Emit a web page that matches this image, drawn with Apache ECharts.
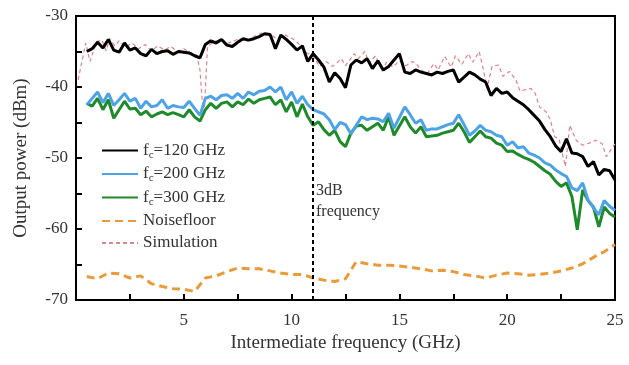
<!DOCTYPE html>
<html>
<head>
<meta charset="utf-8">
<script src="https://cdn.jsdelivr.net/npm/echarts@6/dist/echarts.min.js"></script>
<style>
  html, body { margin: 0; padding: 0; background: #fff; }
  #chart { width: 629px; height: 365px; }
</style>
</head>
<body>
<div id="chart"></div>
<script>
// measured curves, 0.25 GHz grid
const freq = [
  0.5, 0.75, 1, 1.25, 1.5, 1.75, 2, 2.25, 2.5, 2.75,
  3, 3.25, 3.5, 3.75, 4, 4.25, 4.5, 4.75, 5, 5.25,
  5.5, 5.75, 6, 6.25, 6.5, 6.75, 7, 7.25, 7.5, 7.75,
  8, 8.25, 8.5, 8.75, 9, 9.25, 9.5, 9.75, 10, 10.25,
  10.5, 10.75, 11, 11.25, 11.5, 11.75, 12, 12.25, 12.5, 12.75,
  13, 13.25, 13.5, 13.75, 14, 14.25, 14.5, 14.75, 15, 15.25,
  15.5, 15.75, 16, 16.25, 16.5, 16.75, 17, 17.25, 17.5, 17.75,
  18, 18.25, 18.5, 18.75, 19, 19.25, 19.5, 19.75, 20, 20.25,
  20.5, 20.75, 21, 21.25, 21.5, 21.75, 22, 22.25, 22.5, 22.75,
  23, 23.25, 23.5, 23.75, 24, 24.25, 24.5, 24.75, 25
]

const fc120 = [
  -35.0, -34.6, -33.7, -34.5, -33.3, -34.8, -35.1, -33.8, -34.8, -34.5,
  -35.3, -35.6, -34.7, -35.3, -35.0, -34.9, -35.4, -35.0, -35.1, -35.2,
  -35.6, -35.9, -34.0, -33.5, -33.8, -33.3, -34.1, -34.3, -33.7, -33.2,
  -33.4, -33.2, -32.9, -32.5, -32.6, -34.6, -32.7, -33.3, -34.0, -34.8,
  -34.2, -36.4, -35.3, -36.2, -37.2, -39.3, -38.0, -38.8, -40.1, -36.9,
  -36.2, -36.6, -36.0, -37.4, -36.3, -37.6, -37.1, -36.2, -35.3, -37.9,
  -38.1, -37.6, -37.9, -38.1, -38.3, -37.9, -38.1, -37.8, -37.6, -39.3,
  -38.6, -37.9, -38.3, -38.9, -39.3, -41.2, -40.2, -40.9, -40.7, -41.5,
  -42.0, -42.5, -43.2, -44.0, -44.8, -46.0, -47.0, -48.3, -49.1, -47.3,
  -49.3, -49.4, -49.8, -51.2, -50.5, -52.4, -51.6, -51.8, -53.1
]

const fc200 = [
  -42.5, -41.6, -40.7, -42.2, -40.9, -42.6, -41.8, -40.9, -42.0, -41.6,
  -43.0, -42.0, -42.8, -42.6, -41.8, -43.0, -42.6, -42.8, -42.9, -42.0,
  -43.0, -44.0, -41.6, -41.3, -41.8, -41.2, -41.1, -41.6, -40.9, -41.6,
  -40.7, -41.1, -40.6, -40.5, -40.0, -40.7, -40.0, -41.8, -40.7, -42.3,
  -41.3, -42.5, -43.2, -43.5, -43.8, -44.6, -46.0, -45.0, -45.3, -46.6,
  -45.4, -44.2, -44.6, -44.4, -44.5, -44.9, -43.7, -45.8, -44.3, -42.8,
  -43.9, -45.1, -44.6, -46.1, -45.9, -45.9, -45.6, -45.3, -45.1, -43.9,
  -45.3, -46.8, -46.2, -45.4, -46.1, -46.3, -46.8, -47.0, -48.2, -47.7,
  -48.6, -48.4, -49.3, -49.6, -50.0, -50.7, -51.0, -51.7, -52.2, -52.6,
  -54.2, -54.6, -53.5, -55.9, -57.0, -58.0, -56.0, -56.8, -57.4
]

const fc300 = [
  -42.3, -42.7, -41.6, -43.2, -41.8, -44.4, -43.2, -42.0, -43.1, -43.0,
  -43.9, -43.4, -44.2, -43.8, -43.5, -43.9, -43.6, -43.9, -44.2, -43.2,
  -44.2, -44.8, -43.2, -42.3, -43.0, -42.3, -42.1, -42.8, -42.1, -42.5,
  -41.7, -42.3, -41.8, -41.6, -41.4, -42.5, -41.8, -43.5, -42.1, -44.2,
  -42.4, -44.2, -45.4, -44.9, -46.0, -46.8, -46.1, -47.7, -48.4, -46.5,
  -45.5, -45.4, -46.1, -45.6, -45.1, -46.1, -44.2, -46.8, -45.5, -44.2,
  -45.6, -46.5, -45.6, -47.0, -46.9, -46.8, -46.5, -46.3, -46.1, -45.1,
  -46.3, -47.8, -47.0, -46.2, -47.0, -47.2, -47.9, -48.2, -49.1, -49.0,
  -49.5, -49.9, -50.2, -50.6, -51.2, -51.8, -52.3, -53.3, -54.0, -53.5,
  -55.4, -60.1, -54.5, -56.0, -56.9, -59.7, -56.9, -57.8, -58.3
]

// noise floor, 0.5 GHz grid
const noiseFreq = [
  0.5, 1, 1.5, 2, 2.5, 3, 3.5, 4, 4.5, 5,
  5.5, 6, 6.5, 7, 7.5, 8, 8.5, 9, 9.5, 10,
  10.5, 11, 11.5, 12, 12.5, 13, 13.5, 14, 14.5, 15,
  15.5, 16, 16.5, 17, 17.5, 18, 18.5, 19, 19.5, 20,
  20.5, 21, 21.5, 22, 22.5, 23, 23.5, 24, 24.5, 25
]
const noiseFloor = [
  -66.7, -67.0, -66.2, -66.3, -66.9, -66.6, -67.7, -68.1, -68.4, -68.5,
  -68.8, -66.9, -66.6, -66.0, -65.5, -65.6, -65.6, -65.9, -66.2, -66.4,
  -66.4, -66.9, -67.2, -67.4, -67.0, -64.6, -64.9, -65.1, -65.1, -65.2,
  -65.4, -65.6, -65.9, -65.8, -66.0, -66.4, -66.6, -66.9, -66.5, -66.2,
  -66.3, -66.5, -66.4, -66.2, -65.9, -65.5, -64.9, -64.0, -63.2, -62.2
]

// simulation (irregular sampling)
const simFreq = [
  0.1, 0.45, 0.65, 0.95, 1.2, 1.4, 1.55, 1.8, 2.0, 2.3,
  2.6, 2.9, 3.2, 3.5, 3.8, 4.1, 4.4, 4.7, 5.0, 5.3,
  5.6, 5.75, 5.85, 5.95, 6.1, 6.4, 6.7, 7.0, 7.3, 7.6,
  7.9, 8.2, 8.6, 9.0, 9.3, 9.7, 10.0, 10.3, 10.6, 11.0,
  11.3, 11.6, 11.9, 12.1, 12.3, 12.5, 12.7, 12.9, 13.1, 13.4,
  13.6, 13.9, 14.2, 14.4, 14.7, 15.0, 15.3, 15.6, 15.8, 16.0,
  16.3, 16.6, 16.8, 17.1, 17.4, 17.6, 17.9, 18.2, 18.4, 18.7,
  18.9, 19.06, 19.3, 19.6, 19.8, 20.1, 20.4, 20.6, 20.8, 21.1,
  21.3, 21.5, 21.8, 22.0, 22.2, 22.4, 22.7, 22.9, 23.2, 23.5,
  23.8, 24.1, 24.4, 24.6, 25.0
]
const simPower = [
  -39.0, -33.8, -36.4, -33.6, -33.4, -34.9, -33.2, -34.2, -33.5, -34.4,
  -33.8, -34.6, -34.0, -34.9, -34.2, -34.8, -34.3, -35.0, -34.6, -35.2,
  -35.5, -37.6, -41.8, -43.5, -34.3, -33.6, -33.3, -33.9, -33.5, -33.2,
  -33.6, -33.0, -32.4, -32.6, -33.2, -32.7, -33.1, -33.8, -35.0, -35.7,
  -37.1, -36.4, -37.1, -36.6, -36.0, -37.0, -36.2, -35.3, -36.0, -35.0,
  -36.6, -35.6, -37.8, -36.5, -37.2, -36.3, -37.0, -36.4, -36.8, -37.6,
  -38.1, -36.7, -37.6, -35.7, -37.2, -35.6, -36.8, -35.3, -36.5, -35.0,
  -37.6, -40.2, -37.1, -36.9, -38.5, -37.8, -39.0, -40.6, -40.4, -40.2,
  -40.9, -42.8, -43.5, -44.6, -47.0, -47.3, -51.2, -45.4, -47.5, -48.2,
  -47.9, -47.5, -48.0, -49.8, -48.0
]

const cutoffFreq = 11

const font = 'Liberation Serif'
const textColor = '#333'

function pairs (xs, ys) {
  return xs.map((x, i) => [x, ys[i]])
}

const chart = echarts.init(document.getElementById('chart'))

chart.setOption({
  animation: false,
  grid: {
    left: 76,
    right: 14,
    top: 16,
    bottom: 65,
    show: true,
    borderColor: '#000',
    borderWidth: 2
  },
  legend: {
    orient: 'vertical',
    left: 96,
    top: 137,
    itemWidth: 36,
    itemHeight: 12,
    itemGap: 5,
    // line only, no marker in the legend
    itemStyle: { opacity: 0 },
    textStyle: {
      fontFamily: font,
      fontSize: 17,
      color: textColor,
      rich: {
        f: { fontFamily: font, fontSize: 17, color: textColor },
        s: { fontFamily: font, fontSize: 11, color: textColor, padding: [9, 0, 0, 0] }
      }
    },
    formatter: function (name) {
      if (name.indexOf('fc=') === 0) {
        return '{f|f}{s|c}{f|' + name.slice(2) + '}'
      }
      return name
    },
    data: ['fc=120 GHz', 'fc=200 GHz', 'fc=300 GHz', 'Noisefloor', 'Simulation']
  },
  xAxis: {
    type: 'value',
    min: 0,
    max: 25,
    interval: 2.5,
    name: 'Intermediate frequency (GHz)',
    nameLocation: 'middle',
    nameGap: 33,
    nameTextStyle: { fontFamily: font, fontSize: 19, color: textColor },
    axisLine: { lineStyle: { color: '#000', width: 2 } },
    axisTick: { inside: true, length: 6, lineStyle: { color: '#000', width: 2 } },
    axisLabel: {
      fontFamily: font,
      fontSize: 17,
      color: textColor,
      margin: 12,
      formatter: v => (v > 0 && v % 5 === 0) ? String(v) : ''
    },
    splitLine: { show: false }
  },
  yAxis: {
    type: 'value',
    min: -70,
    max: -30,
    interval: 5,
    name: 'Output power (dBm)',
    nameLocation: 'middle',
    nameGap: 45,
    nameTextStyle: { fontFamily: font, fontSize: 19, color: textColor },
    axisLine: { show: true, lineStyle: { color: '#000', width: 2 } },
    axisTick: { inside: true, length: 6, lineStyle: { color: '#000', width: 2 } },
    axisLabel: {
      fontFamily: font,
      fontSize: 17,
      color: textColor,
      margin: 8,
      formatter: v => (v % 10 === 0) ? String(v) : ''
    },
    splitLine: { show: false }
  },
  graphic: [{
    type: 'text',
    left: 316,
    top: 180,
    style: {
      text: '3dB\nfrequency',
      font: '16px "Liberation Serif"',
      fill: textColor,
      lineHeight: 21
    }
  }],
  series: [
    {
      name: 'Simulation',
      type: 'line',
      data: pairs(simFreq, simPower),
      symbol: 'none',
      z: 1,
      lineStyle: { color: '#d9868d', width: 1.2, type: [4, 3] },
      itemStyle: { color: '#d9868d' }
    },
    {
      name: 'fc=300 GHz',
      type: 'line',
      data: pairs(freq, fc300),
      symbol: 'none',
      z: 2,
      lineStyle: { color: '#1f8a2c', width: 3 },
      itemStyle: { color: '#1f8a2c' }
    },
    {
      name: 'fc=200 GHz',
      type: 'line',
      data: pairs(freq, fc200),
      symbol: 'none',
      z: 3,
      lineStyle: { color: '#4ea3e6', width: 3 },
      itemStyle: { color: '#4ea3e6' }
    },
    {
      name: 'fc=120 GHz',
      type: 'line',
      data: pairs(freq, fc120),
      symbol: 'none',
      z: 4,
      lineStyle: { color: '#000', width: 3 },
      itemStyle: { color: '#000' },
      markLine: {
        silent: true,
        symbol: 'none',
        label: { show: false },
        lineStyle: { color: '#000', width: 2, type: [4, 3] },
        data: [{ xAxis: cutoffFreq }]
      }
    },
    {
      name: 'Noisefloor',
      type: 'line',
      data: pairs(noiseFreq, noiseFloor),
      symbol: 'none',
      z: 2,
      lineStyle: { color: '#e89b3a', width: 3, type: [8, 5] },
      itemStyle: { color: '#e89b3a' }
    }
  ]
})
</script>
</body>
</html>
